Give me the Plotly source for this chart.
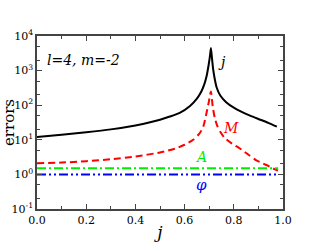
import plotly.graph_objects as go

j_black = [0.0, 0.1, 0.2, 0.3, 0.4, 0.46, 0.5, 0.54, 0.58, 0.622, 0.65, 0.668, 0.68, 0.69, 0.698, 0.703, 0.707,
           0.711, 0.716, 0.722, 0.73, 0.745, 0.77, 0.80, 0.83, 0.866, 0.9, 0.94, 0.975]
err_j = [12, 14, 16.5, 20, 26, 32, 38, 47, 60, 95, 155, 250, 400, 720, 1500, 2600, 4500,
         2400, 1100, 600, 330, 190, 120, 85, 65, 50, 40, 31, 24]

j_red = [0.0, 0.1, 0.2, 0.3, 0.4, 0.5, 0.56, 0.6, 0.635, 0.66, 0.676, 0.688, 0.698, 0.707,
         0.714, 0.722, 0.732, 0.745, 0.76, 0.79, 0.825, 0.86, 0.89, 0.93, 0.967, 0.98]
err_M = [2.1, 2.2, 2.4, 2.75, 3.3, 4.3, 5.5, 7.2, 10, 15, 24, 55, 120, 250,
         95, 45, 26, 17, 12, 8, 5.6, 3.7, 2.6, 1.9, 1.4, 1.3]

j_flat = [0.0, 0.98]
err_A = [1.5, 1.5]
err_phi = [1.0, 1.0]

y_tickvals = [0.1, 1, 10, 100, 1000, 10000]
y_ticktext = ["10<sup>-1</sup>", "10<sup>0</sup>", "10<sup>1</sup>", "10<sup>2</sup>",
              "10<sup>3</sup>", "10<sup>4</sup>"]
x_tickvals = [0.0, 0.2, 0.4, 0.6, 0.8, 1.0]
x_ticktext = ["0.0", "0.2", "0.4", "0.6", "0.8", "1.0"]

FONT = "DejaVu Serif"

fig = go.Figure()
fig.add_trace(go.Scatter(x=j_black, y=err_j, mode="lines",
                         line=dict(color="black", width=2, shape="spline", smoothing=0.6)))
fig.add_trace(go.Scatter(x=j_red, y=err_M, mode="lines",
                         line=dict(color="#ff0000", width=2, dash="7px,4px", shape="spline", smoothing=0.6)))
fig.add_trace(go.Scatter(x=j_flat, y=err_A, mode="lines",
                         line=dict(color="#00ee00", width=2, dash="9px,3px,2px,3px")))
fig.add_trace(go.Scatter(x=j_flat, y=err_phi, mode="lines",
                         line=dict(color="#0000ff", width=2, dash="9px,3px,2px,3px,2px,3px")))

fig.add_annotation(x=0.19, y=3.31, text="<i>l=4, m=-2</i>", showarrow=False,
                   font=dict(family=FONT, size=14, color="black"))
fig.add_annotation(x=0.75, y=3.25, text="<i>j</i>", showarrow=False,
                   font=dict(family=FONT, size=14, color="black"))
fig.add_annotation(x=0.79, y=1.34, text="<i>M</i>", showarrow=False,
                   font=dict(family=FONT, size=14, color="#ff0000"))
fig.add_annotation(x=0.667, y=0.50, text="<i>A</i>", showarrow=False,
                   font=dict(family=FONT, size=14, color="#00ee00"))
fig.add_annotation(x=0.67, y=-0.31, text="<i>φ</i>", showarrow=False,
                   font=dict(family=FONT, size=15, color="#0000ff"))

fig.update_layout(
    width=317, height=245,
    margin=dict(l=37, r=34, t=36, b=36, autoexpand=False),
    plot_bgcolor="white", paper_bgcolor="white",
    showlegend=False,
    font=dict(family=FONT, size=11, color="black"),
)
fig.update_xaxes(range=[0, 1], tickvals=x_tickvals, ticktext=x_ticktext,
                 ticks="inside", ticklen=5, tickcolor="#444", automargin=False,
                 minor=dict(ticks="inside", ticklen=3, dtick=0.1, tick0=0, tickcolor="#444"),
                 showgrid=False, zeroline=False, showline=True, linecolor="#444",
                 linewidth=1.5, mirror="allticks",
                 title=dict(text="<i>j</i>", font=dict(family=FONT, size=17), standoff=0),
                 tickfont=dict(family=FONT, size=11))
fig.update_yaxes(type="log", range=[-1, 4], tickvals=y_tickvals, ticktext=y_ticktext,
                 ticks="inside", ticklen=5, tickcolor="#444", automargin=False,
                 minor=dict(ticks="inside", ticklen=3, tickcolor="#444", showgrid=False),
                 showgrid=False, zeroline=False, showline=True, linecolor="#444",
                 linewidth=1.5, mirror="allticks",
                 title=dict(text="errors", font=dict(family=FONT, size=15), standoff=0),
                 tickfont=dict(family=FONT, size=11))

fig.write_html("out.html", config={"displayModeBar": False},
               post_script="document.body.style.margin='0';")
